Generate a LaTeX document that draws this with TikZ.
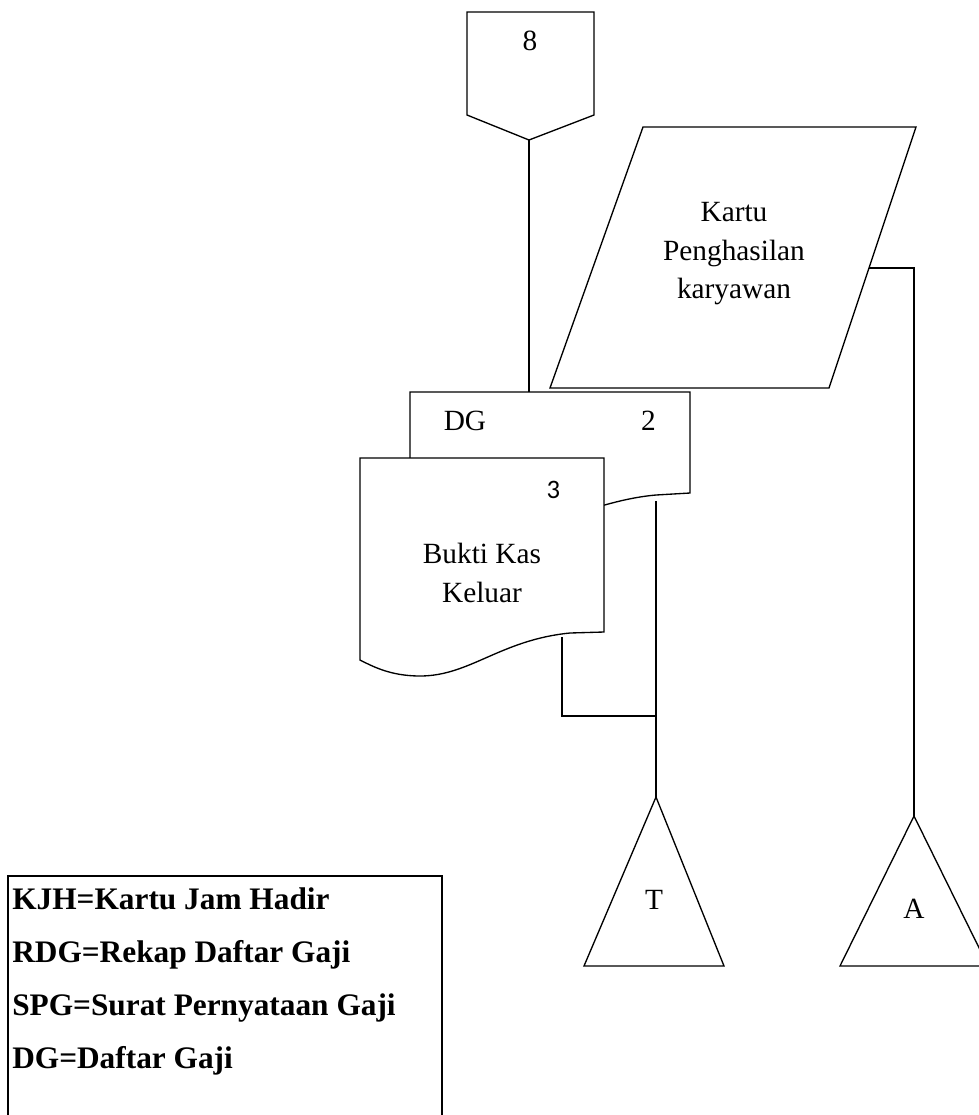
\documentclass[tikz,border=0pt]{standalone}
\usepackage{fontspec}
\setmainfont{Liberation Serif}
\newfontfamily\numsans{Carlito}
\begin{document}
\begin{tikzpicture}[x=0.75pt,y=-0.75pt,
  shapeline/.style={draw=black,line width=1pt,line join=miter,fill=white},
  flow/.style={draw=black,line width=1pt},
  lbl/.style={font=\fontsize{22}{28}\selectfont,anchor=base,inner sep=0pt},
  legendtxt/.style={font=\fontsize{23.5}{28}\selectfont\bfseries,anchor=base west,inner sep=0pt}]
\useasboundingbox (0,0) rectangle (979,1115);

% off-page connector 8
\draw[shapeline] (467,12) -- (594,12) -- (594,115) -- (529,140) -- (467,115) -- cycle;
\node[lbl] (off8) at (530,50) {8};
\coordinate (off8-tip) at (529,140);

% input/output: Kartu Penghasilan karyawan
\draw[shapeline] (643,127) -- (916,127) -- (829,388) -- (550,388) -- cycle;
\node[lbl] (kpk1) at (734,221) {Kartu};
\node[lbl] (kpk2) at (734,260) {Penghasilan};
\node[lbl] (kpk3) at (734,298) {karyawan};
\coordinate (kpk-right) at (869,268);

% document DG (back)
\draw[shapeline] (410,392) -- (690,392) -- (690,493) -- (656,495)
  .. controls (600,500) and (560,525) .. (500,530)
  .. controls (450,532) and (430,525) .. (410,520) -- cycle;
\node[lbl] (dg) at (465,430) {DG};
\node[lbl] (dgnum) at (648.5,430) {2};
\coordinate (dg-top) at (529,392);
\coordinate (dg-bottom) at (656,501);

% document Bukti Kas Keluar (front)
\draw[shapeline] (360,458) -- (604,458) -- (604,632) -- (570,633)
  .. controls (500,640) and (470,676) .. (420,676)
  .. controls (390,676) and (372,666) .. (360,660) -- cycle;
\node[lbl,font=\numsans\fontsize{20}{24}\selectfont] (bknum) at (553.5,498) {3};
\node[lbl] (bk1) at (482,563) {Bukti Kas};
\node[lbl] (bk2) at (482,602) {Keluar};
\coordinate (bk-bottom) at (562,637);

% terminal storage triangles
\draw[shapeline] (656,797) -- (724,966) -- (584,966) -- cycle;
\node[lbl] (tT) at (654,909) {T};
\coordinate (tT-apex) at (656,797);
\draw[shapeline] (914,816) -- (988,966) -- (840,966) -- cycle;
\node[lbl] (tA) at (914,918) {A};
\coordinate (tA-apex) at (914,816);

% connectors
\coordinate (join) at (656,716);
\draw[flow] (off8-tip) -- (dg-top);
\draw[flow] (kpk-right) -| (tA-apex);
\draw[flow] (dg-bottom) -- (tT-apex);
\draw[flow] (bk-bottom) |- (join);

% legend
\draw[line width=1pt] (8,1117) -- (8,876) -- (442,876) -- (442,1117);
\node[legendtxt] (l1) at (12,909) {KJH=Kartu Jam Hadir};
\node[legendtxt] (l2) at (12,962) {RDG=Rekap Daftar Gaji};
\node[legendtxt] (l3) at (12,1015) {SPG=Surat Pernyataan Gaji};
\node[legendtxt] (l4) at (12,1068) {DG=Daftar Gaji};
\end{tikzpicture}
\end{document}
